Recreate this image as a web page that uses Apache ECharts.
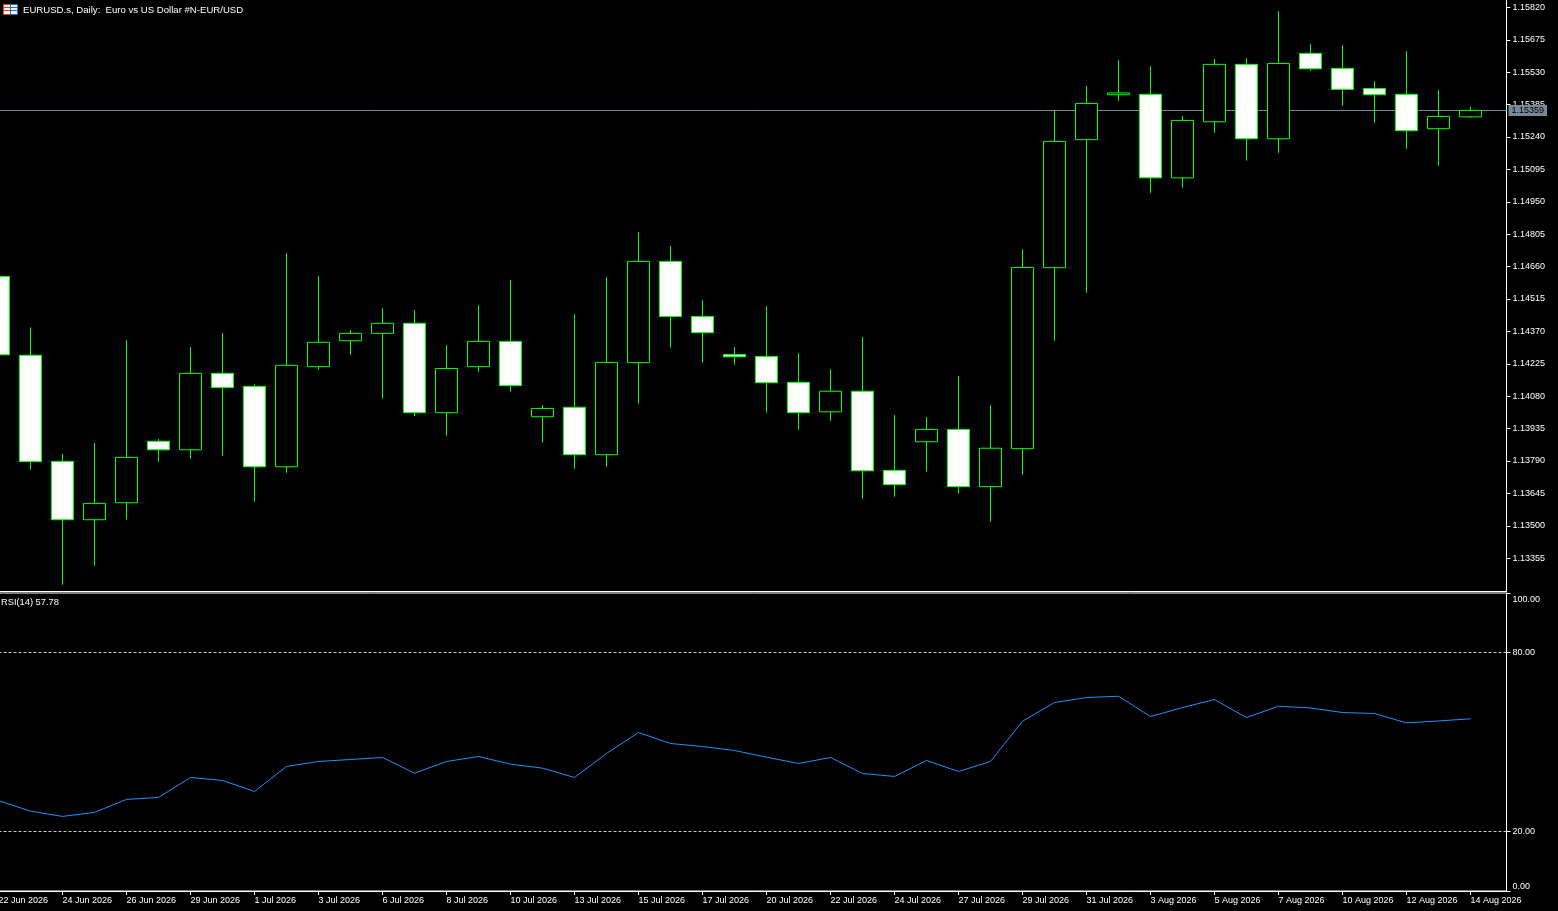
<!DOCTYPE html>
<html>
<head>
<meta charset="utf-8">
<style>html,body{margin:0;padding:0;background:#000;overflow:hidden}#c{width:1558px;height:911px}</style>
<script src="https://cdn.jsdelivr.net/npm/echarts@6/dist/echarts.min.js"></script>
</head>
<body>
<div id="c"></div>
<script>
const opens  = [1.14616,1.14263,1.13788,1.13527,1.13603,1.13878,1.13840,1.14182,1.14124,1.13764,1.14212,1.14328,1.14361,1.14406,1.14006,1.14212,1.14325,1.13988,1.14030,1.13818,1.14230,1.14683,1.14437,1.14267,1.14258,1.14142,1.14010,1.14102,1.13748,1.13876,1.13931,1.13675,1.13845,1.14655,1.15228,1.15429,1.15431,1.15057,1.15308,1.15565,1.15232,1.15614,1.15547,1.15457,1.15431,1.15277,1.15330];
const closes = [1.14265,1.13787,1.13527,1.13600,1.13806,1.13840,1.14182,1.14118,1.13764,1.14218,1.14321,1.14361,1.14406,1.14006,1.14204,1.14325,1.14127,1.14025,1.13818,1.14231,1.14683,1.14437,1.14364,1.14256,1.14140,1.14006,1.14102,1.13746,1.13684,1.13931,1.13675,1.13847,1.14656,1.15220,1.15390,1.15437,1.15057,1.15314,1.15565,1.15232,1.15569,1.15545,1.15453,1.15429,1.15268,1.15332,1.15359];
const lows   = [1.14240,1.13751,1.13236,1.13321,1.13527,1.13787,1.13799,1.13813,1.13608,1.13737,1.14198,1.14265,1.14068,1.13991,1.13903,1.14189,1.14100,1.13872,1.13755,1.13764,1.14046,1.14297,1.14230,1.14221,1.14006,1.13930,1.13970,1.13621,1.13630,1.13742,1.13644,1.13518,1.13728,1.14328,1.14543,1.15402,1.14990,1.15013,1.15259,1.15134,1.15169,1.15536,1.15380,1.15304,1.15187,1.15111,1.15326];
const highs  = [1.14660,1.14388,1.13821,1.13870,1.14331,1.13888,1.14300,1.14363,1.14133,1.14720,1.14618,1.14376,1.14474,1.14465,1.14309,1.14488,1.14600,1.14040,1.14447,1.14613,1.14814,1.14752,1.14510,1.14300,1.14483,1.14273,1.14201,1.14345,1.13995,1.13987,1.14170,1.14040,1.14738,1.15359,1.15468,1.15584,1.15557,1.15334,1.15589,1.15593,1.15803,1.15656,1.15651,1.15490,1.15624,1.15450,1.15374];
const rsi    = [30.32,26.80,25.03,26.37,30.73,31.40,38.10,37.10,33.41,41.79,43.46,44.13,44.80,39.54,43.46,45.14,42.56,41.22,38.10,46.15,53.18,49.50,48.49,47.15,44.91,42.79,44.80,39.44,38.44,43.80,40.11,43.46,56.97,63.24,64.92,65.35,58.55,61.56,64.25,58.21,62.00,61.43,59.89,59.55,56.40,57.07,57.78];
const barIndex = [0,1,2,3,4,5,6,7,8,9,10,11,12,13,14,15,16,17,18,19,20,21,22,23,24,25,26,27,28,29,30,31,32,33,34,35,36,37,38,39,40,41,42,43,44,45,46];
const dateTickBars = [0,2,4,6,8,10,12,14,16,18,20,22,24,26,28,30,32,34,36,38,40,42,44,46];
const dateLabels = ['22 Jun 2026','24 Jun 2026','26 Jun 2026','29 Jun 2026','1 Jul 2026','3 Jul 2026','6 Jul 2026','8 Jul 2026','10 Jul 2026','13 Jul 2026','15 Jul 2026','17 Jul 2026','20 Jul 2026','22 Jul 2026','24 Jul 2026','27 Jul 2026','29 Jul 2026','31 Jul 2026','3 Aug 2026','5 Aug 2026','7 Aug 2026','10 Aug 2026','12 Aug 2026','14 Aug 2026'];
const priceTicks = [1.13355,1.13500,1.13645,1.13790,1.13935,1.14080,1.14225,1.14370,1.14515,1.14660,1.14805,1.14950,1.15095,1.15240,1.15385,1.15530,1.15675,1.15820];
const rsiTicks = [0,20,80,100];
const rsiLevels = [20,80];
const lastPrice = 1.15359;
const chartTitle = 'EURUSD.s, Daily:  Euro vs US Dollar #N-EUR/USD';
const rsiTitle = 'RSI(14) 57.78';

const FONT = '"Liberation Sans"';
const WHITE = '#ffffff';
const GREEN = '#00ff00';
const labelStyle = {color: WHITE, fontFamily: FONT, fontSize: 9};

const chart = echarts.init(document.getElementById('c'), null, {renderer: 'canvas'});
chart.setOption({
  animation: false,
  backgroundColor: '#000000',
  tooltip: {show: false},
  title: [
    {text: chartTitle, left: 23, top: 5, padding: 0, textStyle: {color: WHITE, fontFamily: FONT, fontSize: 9.6, fontWeight: 'normal'}},
    {text: rsiTitle, left: 1, top: 598, padding: 0, textStyle: {color: WHITE, fontFamily: FONT, fontSize: 9.3, fontWeight: 'normal'}}
  ],
  graphic: [
    {type: 'rect', shape: {x: 3.5, y: 4.5, width: 14, height: 10}, style: {fill: '#f4f4f4', stroke: null}},
    {type: 'rect', shape: {x: 3.5, y: 4.5, width: 7, height: 10}, style: {fill: 'none', stroke: '#e8392b', lineWidth: 1}},
    {type: 'rect', shape: {x: 10.5, y: 4.5, width: 7, height: 10}, style: {fill: 'none', stroke: '#1f6fc4', lineWidth: 1}},
    {type: 'line', shape: {x1: 4, y1: 7.5, x2: 10, y2: 7.5}, style: {stroke: '#e8392b'}},
    {type: 'line', shape: {x1: 4, y1: 10.5, x2: 10, y2: 10.5}, style: {stroke: '#e8392b'}},
    {type: 'line', shape: {x1: 11, y1: 7.5, x2: 17, y2: 7.5}, style: {stroke: '#1f6fc4'}},
    {type: 'line', shape: {x1: 11, y1: 10.5, x2: 17, y2: 10.5}, style: {stroke: '#1f6fc4'}}
  ],
  grid: [
    {left: -1.5, width: 1508, top: 0, height: 591, outerBoundsMode: 'none', containLabel: false},
    {left: -1.5, width: 1508, top: 593, height: 298, outerBoundsMode: 'none', containLabel: false, show: true, backgroundColor: 'transparent', borderColor: WHITE, borderWidth: 1}
  ],
  xAxis: [
    {type: 'value', gridIndex: 0, min: 0, max: 47.125, position: 'bottom',
     axisLine: {show: true, onZero: false, lineStyle: {color: WHITE, width: 1}},
     axisTick: {show: false}, axisLabel: {show: false}, splitLine: {show: false}},
    {type: 'value', gridIndex: 1, min: 0, max: 47.125, position: 'bottom',
     axisLine: {show: true, onZero: false, lineStyle: {color: WHITE, width: 1}},
     axisTick: {show: true, length: 4, inside: false, customValues: dateTickBars, lineStyle: {color: WHITE, width: 1}},
     axisLabel: Object.assign({show: true, margin: 5, align: 'left', hideOverlap: false, customValues: dateTickBars,
       formatter: v => dateLabels[dateTickBars.indexOf(v)]}, labelStyle),
     splitLine: {show: false}}
  ],
  yAxis: [
    {type: 'value', gridIndex: 0, position: 'right', min: 1.13208, max: 1.15853,
     axisLine: {show: true, onZero: false, lineStyle: {color: WHITE, width: 1}},
     axisTick: {show: true, length: 4, customValues: priceTicks, lineStyle: {color: WHITE, width: 1}},
     axisLabel: Object.assign({show: true, margin: 6, padding: [2, 0, 0, 0], customValues: priceTicks, formatter: v => v.toFixed(5)}, labelStyle),
     splitLine: {show: false}},
    {type: 'value', gridIndex: 1, position: 'right', min: 0, max: 100,
     axisLine: {show: true, onZero: false, lineStyle: {color: WHITE, width: 1}},
     axisTick: {show: true, length: 4, customValues: rsiTicks, lineStyle: {color: WHITE, width: 1}},
     axisLabel: Object.assign({show: true, margin: 6, padding: [2, 0, 0, 0], customValues: rsiTicks, formatter: v => v.toFixed(2),
       verticalAlignMaxLabel: 'top', verticalAlignMinLabel: 'bottom'}, labelStyle),
     splitLine: {show: false}}
  ],
  series: [
    {type: 'candlestick', xAxisIndex: 0, yAxisIndex: 0, z: 3, clip: false, silent: true,
     barWidth: 22,
     encode: {x: 0, y: [1, 2, 3, 4]},
     itemStyle: {color: '#000000', color0: '#ffffff', borderColor: GREEN, borderColor0: GREEN, borderColorDoji: GREEN, borderWidth: 1},
     data: barIndex.map(i => [i, opens[i], closes[i], lows[i], highs[i]])},
    {type: 'line', xAxisIndex: 0, yAxisIndex: 0, z: 1, silent: true, symbol: 'none', data: [],
     markLine: {silent: true, z: 1, symbol: 'none', animation: false, precision: 5,
       lineStyle: {color: '#778899', type: 'solid', width: 1},
       label: {show: true, position: 'end', distance: 2, formatter: lastPrice.toFixed(5), color: '#000000',
         backgroundColor: '#778899', padding: [1, 3, 1, 3], fontFamily: FONT, fontSize: 9},
       data: [{yAxis: lastPrice}]}},
    {type: 'line', xAxisIndex: 1, yAxisIndex: 1, z: 3, silent: true, symbol: 'none', showSymbol: false, clip: false,
     lineStyle: {color: '#1e90ff', width: 1},
     data: barIndex.map(i => [i, rsi[i]]),
     markLine: {silent: true, symbol: 'none', animation: false,
       lineStyle: {color: '#c8c8c8', type: [3, 2], width: 1},
       label: {show: false},
       data: rsiLevels.map(v => ({yAxis: v}))}}
  ]
});
</script>
</body>
</html>
